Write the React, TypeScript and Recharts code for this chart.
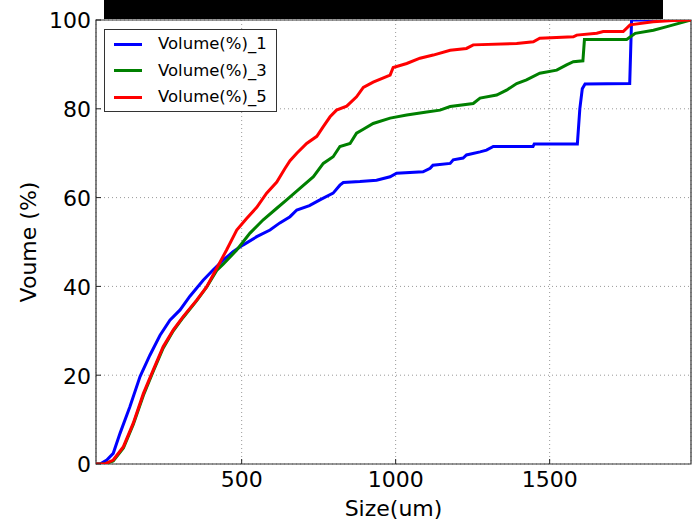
import React from "react";
import {
  CartesianGrid,
  Label,
  Legend,
  Line,
  LineChart,
  ReferenceArea,
  XAxis,
  YAxis,
} from "recharts";

const FONT = '"DejaVu Sans", sans-serif';

// particle size (um) and cumulative volume (%)
const sizes1 = [27, 40, 62, 83, 105, 137, 170, 202, 235, 267, 300, 332, 375, 407, 440, 472, 504, 549, 592, 624, 657, 679, 720, 754, 797, 819, 830, 884, 938, 982, 1003, 1089, 1112, 1121, 1177, 1187, 1219, 1230, 1274, 1295, 1317, 1446, 1450, 1590, 1598, 1606, 1615, 1760, 1766, 1959];
const volume1 = [0, 0, 0.9, 2.4, 6.9, 12.9, 19.7, 24.5, 29, 32.4, 34.7, 37.8, 41.4, 43.7, 45.9, 47.8, 49.3, 51.2, 52.7, 54.3, 55.7, 57.2, 58.2, 59.5, 61, 62.8, 63.4, 63.6, 63.9, 64.7, 65.5, 65.8, 66.6, 67.3, 67.7, 68.5, 68.9, 69.6, 70.3, 70.7, 71.5, 71.5, 72.1, 72.1, 80, 84.5, 85.6, 85.7, 100, 100];

const sizes3 = [27, 55, 83, 116, 148, 181, 213, 245, 278, 310, 354, 386, 419, 440, 484, 527, 570, 614, 646, 689, 733, 765, 797, 819, 852, 873, 895, 927, 982, 1036, 1101, 1144, 1177, 1252, 1274, 1328, 1360, 1393, 1425, 1468, 1523, 1555, 1577, 1608, 1613, 1750, 1778, 1837, 1881, 1959];
const volume3 = [0, 0, 0.7, 3.6, 8.9, 15.5, 20.9, 26.1, 30, 33, 36.8, 39.8, 43.6, 45, 48.2, 52, 55, 57.6, 59.5, 62.1, 64.7, 67.7, 69.2, 71.5, 72.2, 74.5, 75.4, 76.7, 77.9, 78.6, 79.3, 79.7, 80.5, 81.2, 82.4, 83.1, 84.2, 85.7, 86.5, 88, 88.7, 89.9, 90.6, 90.8, 95.6, 95.6, 97, 97.7, 98.5, 100];

const sizes5 = [27, 55, 83, 116, 148, 181, 213, 245, 278, 310, 354, 386, 419, 451, 484, 516, 549, 581, 614, 640, 657, 679, 711, 744, 765, 787, 808, 841, 873, 895, 927, 982, 992, 1036, 1079, 1122, 1177, 1230, 1252, 1393, 1447, 1468, 1577, 1588, 1653, 1674, 1739, 1761, 1836, 1900, 1959];
const volume5 = [0, 0, 0.9, 3.9, 9.2, 15.9, 21.2, 26.4, 30.2, 33.2, 36.9, 39.9, 44.1, 48.2, 52.7, 55.3, 57.8, 61, 63.5, 66.5, 68.3, 70, 72.2, 73.8, 76, 78.2, 79.7, 80.6, 82.7, 84.8, 86, 87.6, 89.3, 90.2, 91.4, 92.1, 93.2, 93.6, 94.4, 94.7, 95.1, 95.9, 96.2, 96.6, 97, 97.4, 97.4, 98.9, 99.6, 99.9, 100];

const seriesNames = ["Volume(%)_1", "Volume(%)_3", "Volume(%)_5"];
const seriesColors = ["#0000ff", "#008000", "#ff0000"];

const xTicks = [500, 1000, 1500];
const yTicks = [0, 20, 40, 60, 80, 100];
const xDomain = [27, 1959];

const toPoints = (xs: number[], ys: number[]) =>
  xs.map((x, i) => ({ size: x, volume: ys[i] }));

const series = [
  toPoints(sizes1, volume1),
  toPoints(sizes3, volume3),
  toPoints(sizes5, volume5),
];

const TICK_LEN = 5;
const TICK_COLOR = "#222";

function BottomTick(props: any) {
  const { x, y, payload } = props;
  return (
    <g>
      <line x1={x} x2={x} y1={y} y2={y - TICK_LEN} stroke={TICK_COLOR} />
      <text x={x} y={y + 23} textAnchor="middle" fontSize={22} fontFamily={FONT} fill="#000">
        {payload.value}
      </text>
    </g>
  );
}

function TopTick(props: any) {
  const { x, y } = props;
  return <line x1={x} x2={x} y1={y} y2={y + TICK_LEN} stroke={TICK_COLOR} />;
}

function LeftTick(props: any) {
  const { x, y, payload } = props;
  return (
    <g>
      <line x1={x} x2={x + TICK_LEN} y1={y} y2={y} stroke={TICK_COLOR} />
      <text x={x - 5} y={y + 8.3} textAnchor="end" fontSize={22} fontFamily={FONT} fill="#000">
        {payload.value}
      </text>
    </g>
  );
}

function RightTick(props: any) {
  const { x, y } = props;
  return <line x1={x} x2={x - TICK_LEN} y1={y} y2={y} stroke={TICK_COLOR} />;
}

function LegendBox() {
  return (
    <div
      style={{
        width: 171,
        height: 80,
        border: "1px solid #333",
        background: "#fff",
        fontFamily: FONT,
        fontSize: 16.5,
        color: "#000",
        paddingTop: 1,
        boxSizing: "content-box",
      }}
    >
      {seriesNames.map((name, i) => (
        <div key={name} style={{ height: 26.5, display: "flex", alignItems: "center" }}>
          <span
            style={{
              display: "inline-block",
              marginLeft: 9,
              width: 28,
              height: 3,
              background: seriesColors[i],
            }}
          />
          <span style={{ marginLeft: 16, lineHeight: 1 }}>{name}</span>
        </div>
      ))}
    </div>
  );
}

export default function App() {
  return (
    <div style={{ position: "absolute", left: 0, top: 0, width: 692, height: 527, background: "#fff" }}>
      <div style={{ position: "absolute", left: 104, top: 0, width: 559, height: 19, background: "#000" }} />
      <LineChart width={692} height={527} margin={{ top: 20, right: 1, left: 0, bottom: 0 }}>
        <CartesianGrid stroke="#999" strokeDasharray="1 3" />
        <XAxis
          dataKey="size"
          type="number"
          domain={xDomain}
          ticks={xTicks}
          allowDataOverflow
          height={63}
          tickSize={0}
          tickMargin={0}
          tickLine={false}
          axisLine={false}
          tick={<BottomTick />}
        >
          <Label
            content={() => (
              <text x={393.5} y={516} textAnchor="middle" fontSize={22} fontFamily={FONT} fill="#000">
                Size(um)
              </text>
            )}
          />
        </XAxis>
        <XAxis
          xAxisId="top"
          orientation="top"
          dataKey="size"
          type="number"
          domain={xDomain}
          ticks={xTicks}
          allowDataOverflow
          height={0}
          tickSize={0}
          tickMargin={0}
          tickLine={false}
          axisLine={false}
          tick={<TopTick />}
        />
        <YAxis
          type="number"
          domain={[0, 100]}
          ticks={yTicks}
          allowDataOverflow
          width={96}
          tickSize={0}
          tickMargin={0}
          tickLine={false}
          axisLine={false}
          tick={<LeftTick />}
        >
          <Label
            content={() => (
              <text
                x={36}
                y={242}
                transform="rotate(-90 36 242)"
                textAnchor="middle"
                fontSize={22}
                fontFamily={FONT}
                fill="#000"
              >
                Voume (%)
              </text>
            )}
          />
        </YAxis>
        <YAxis
          yAxisId="right"
          orientation="right"
          type="number"
          domain={[0, 100]}
          ticks={yTicks}
          allowDataOverflow
          width={0}
          tickSize={0}
          tickMargin={0}
          tickLine={false}
          axisLine={false}
          tick={<RightTick />}
        />
        <ReferenceArea
          x1={xDomain[0]}
          x2={xDomain[1]}
          y1={0}
          y2={100}
          fill="none"
          fillOpacity={0}
          stroke="#333"
          strokeWidth={1.2}
          ifOverflow="extendDomain"
        />
        {series.map((data, i) => (
          <Line
            key={seriesNames[i]}
            data={data}
            dataKey="volume"
            name={seriesNames[i]}
            type="linear"
            stroke={seriesColors[i]}
            strokeWidth={3}
            dot={false}
            activeDot={false}
            isAnimationActive={false}
          />
        ))}
        <Legend
          layout="vertical"
          align="center"
          verticalAlign="middle"
          content={<LegendBox />}
          wrapperStyle={{ position: "absolute", left: 104, top: 29, width: 173, height: 82 }}
        />
      </LineChart>
    </div>
  );
}
